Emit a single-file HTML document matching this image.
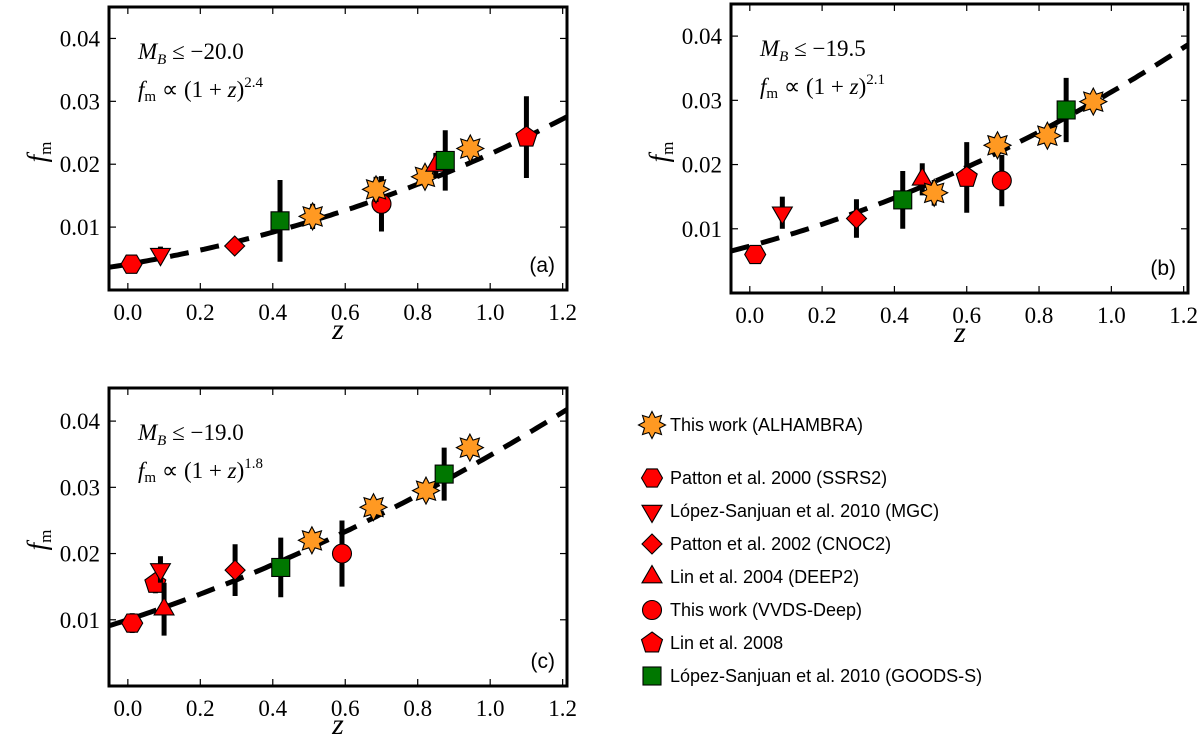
<!DOCTYPE html>
<html><head><meta charset="utf-8"><style>
html,body{margin:0;padding:0;background:#fff;}
svg{display:block;}
</style></head><body>
<svg id="fig" width="1200" height="738" viewBox="0 0 1200 738" xmlns="http://www.w3.org/2000/svg">
</svg>
<script>
// Panel (a) MB <= -20.0
const typesA = ['hex','tdown','diamond','square','star','circle','star','star','tup','square','star','pent'];
const zA = [0.01,0.09,0.295,0.42,0.51,0.70,0.685,0.82,0.85,0.876,0.945,1.10];
const fA = [0.0041,0.0057,0.0070,0.0110,0.0117,0.0137,0.0160,0.0180,0.0198,0.0206,0.0225,0.0243];
const eA = [0.0005,0.0012,0.0008,0.0065,0.0020,0.0044,0.0020,0.0015,0.0020,0.0048,0.0015,0.0065];
const fitA = {f0:0.0041, p:2.4};
// Panel (b) MB <= -19.5
const typesB = ['hex','tdown','diamond','square','tup','star','pent','star','circle','star','square','star'];
const zB = [0.015,0.09,0.295,0.423,0.477,0.51,0.60,0.685,0.697,0.823,0.875,0.95];
const fB = [0.0060,0.0125,0.0116,0.0145,0.0177,0.0156,0.0180,0.0230,0.0175,0.0245,0.0285,0.0298];
const eB = [0.0005,0.0025,0.0030,0.0045,0.0025,0.0020,0.0055,0.0015,0.0040,0.0015,0.0050,0.0015];
const fitB = {f0:0.0073, p:2.1};
// Panel (c) MB <= -19.0
const typesC = ['hex','pent','tdown','tup','diamond','square','star','circle','star','star','square','star'];
const zC = [0.012,0.076,0.09,0.10,0.296,0.422,0.508,0.591,0.678,0.823,0.873,0.944];
const fC = [0.0095,0.0155,0.0176,0.0116,0.0175,0.0179,0.0220,0.0200,0.0270,0.0295,0.0320,0.0360];
const eC = [0.0015,0.0015,0.0020,0.0040,0.0039,0.0045,0.0015,0.0050,0.0015,0.0015,0.0040,0.0015];
const fitC = {f0:0.0100, p:1.8};

const xTicks = [0.0,0.2,0.4,0.6,0.8,1.0,1.2];
const yTicks = [0.01,0.02,0.03,0.04];
const xTickLabels = ['0.0','0.2','0.4','0.6','0.8','1.0','1.2'];
const yTickLabels = ['0.01','0.02','0.03','0.04'];

const legendLabels = ['This work (ALHAMBRA)','Patton et al. 2000 (SSRS2)','López-Sanjuan et al. 2010 (MGC)','Patton et al. 2002 (CNOC2)','Lin et al. 2004 (DEEP2)','This work (VVDS-Deep)','Lin et al. 2008','López-Sanjuan et al. 2010 (GOODS-S)'];
const legendTypes = ['star','hex','tdown','diamond','tup','circle','pent','square'];

const NS='http://www.w3.org/2000/svg';
const svg=document.getElementById('fig');
function mk(tag,attrs,parent){const e=document.createElementNS(NS,tag);for(const k in attrs)e.setAttribute(k,attrs[k]);(parent||svg).appendChild(e);return e;}

function colorOf(t){return t==='star'?'#ff9922':(t==='square'?'#007700':'#ff0000');}
function polyPts(cx,cy,n,r,rot,inner){
  const pts=[];const m=inner?2*n:n;
  for(let i=0;i<m;i++){const a=rot+i*2*Math.PI/m;const rr=(inner&&i%2)?r*inner:r;pts.push((cx+rr*Math.sin(a)).toFixed(1)+','+(cy-rr*Math.cos(a)).toFixed(1));}
  return pts.join(' ');
}
function marker(t,cx,cy,g){
  const st={fill:colorOf(t),stroke:'#000','stroke-width':1.1};
  let e;
  if(t==='circle'){e=mk('circle',Object.assign({cx:cx,cy:cy,r:9.5},st),g);}
  else if(t==='square'){e=mk('rect',Object.assign({x:cx-9,y:cy-9,width:18,height:18},st),g);}
  else if(t==='hex'){e=mk('polygon',Object.assign({points:polyPts(cx,cy,6,10.5,Math.PI/6)},st),g);}
  else if(t==='pent'){e=mk('polygon',Object.assign({points:polyPts(cx,cy,5,11,0)},st),g);}
  else if(t==='diamond'){e=mk('polygon',Object.assign({points:polyPts(cx,cy,4,10,0)},st),g);}
  else if(t==='tup'){e=mk('polygon',Object.assign({points:polyPts(cx,cy,3,11.5,0)},st),g);}
  else if(t==='tdown'){e=mk('polygon',Object.assign({points:polyPts(cx,cy,3,11.5,Math.PI)},st),g);}
  else {e=mk('polygon',Object.assign({points:polyPts(cx,cy,8,13.5,0,0.6)},st),g);}
  return e;
}

function panel(id,box,types,zs,fs,es,fit,l1,exp,tag,ylabPos,xlabPos){
  const g=mk('g',{});
  
  
  const xmin=-0.052,xmax=1.212,ymin=0,ymax=0.045;
  const X=v=>box.x+(v-xmin)/(xmax-xmin)*box.w;
  const Y=v=>box.y+box.h-(v-ymin)/(ymax-ymin)*box.h;
  const clip=mk('clipPath',{id:'clip'+id},g);
  mk('rect',{x:box.x,y:box.y,width:box.w,height:box.h},clip);
  let d='';
  for(let i=0;i<=120;i++){const z=xmin+(xmax-xmin)*i/120;d+=(i?'L':'M')+X(z).toFixed(1)+','+Y(fit.f0*Math.pow(1+z,fit.p)).toFixed(1);}
  const fl=mk('path',{d:d,fill:'none',stroke:'#000','stroke-width':5,'stroke-dasharray':'19,12','clip-path':'url(#clip'+id+')'},g);
  
  
  for(let i=0;i<zs.length;i++){
    const eb=mk('line',{x1:X(zs[i]),x2:X(zs[i]),y1:Y(fs[i]-es[i]),y2:Y(fs[i]+es[i]),stroke:'#000','stroke-width':5},g);
    
    
    const m=marker(types[i],X(zs[i]),Y(fs[i]),g);
    
    
  }
  const fr=mk('rect',{x:box.x,y:box.y,width:box.w,height:box.h,fill:'none',stroke:'#000','stroke-width':3},g);
  
  
  xTicks.forEach((v,i)=>{
    const x=X(v);
    mk('line',{x1:x,x2:x,y1:box.y+box.h,y2:box.y+box.h-7,stroke:'#000','stroke-width':1.2},g);
    mk('line',{x1:x,x2:x,y1:box.y,y2:box.y+7,stroke:'#000','stroke-width':1.2},g);
    const t=mk('text',{x:x,y:box.y+box.h+30,'text-anchor':'middle','font-family':'Liberation Serif, serif','font-size':23},g);
    t.textContent=xTickLabels[i];
    
    
  });
  yTicks.forEach((v,i)=>{
    const y=Y(v);
    mk('line',{x1:box.x,x2:box.x+7,y1:y,y2:y,stroke:'#000','stroke-width':1.2},g);
    mk('line',{x1:box.x+box.w,x2:box.x+box.w-7,y1:y,y2:y,stroke:'#000','stroke-width':1.2},g);
    const t=mk('text',{x:box.x-9,y:y+8,'text-anchor':'end','font-family':'Liberation Serif, serif','font-size':23},g);
    t.textContent=yTickLabels[i];
    
    
  });
  const a1=mk('text',{x:box.x+29,y:box.y+52,'font-family':'Liberation Serif, serif','font-size':23},g);
  a1.innerHTML='<tspan font-style="italic">M</tspan><tspan font-style="italic" font-size="15" dy="5">B</tspan><tspan dy="-5"> ≤ −'+l1+'</tspan>';
  
  
  const a2=mk('text',{x:box.x+29,y:box.y+90,'font-family':'Liberation Serif, serif','font-size':23},g);
  a2.innerHTML='<tspan font-style="italic">f</tspan><tspan font-size="15" dy="4">m</tspan><tspan dy="-4"> ∝ (1 + </tspan><tspan font-style="italic">z</tspan><tspan>)</tspan><tspan font-size="15" dy="-10">'+exp+'</tspan>';
  
  
  const tg=mk('text',{x:box.x+box.w-12,y:box.y+box.h-18,'text-anchor':'end','font-family':'Liberation Sans, sans-serif','font-size':21},g);
  tg.textContent='('+tag+')';
  
  
  const yl=mk('text',{x:0,y:0,transform:'translate('+ylabPos[0]+','+ylabPos[1]+') rotate(-90)','text-anchor':'middle','font-family':'Liberation Serif, serif','font-size':27},g);
  yl.innerHTML='<tspan font-style="italic">f</tspan><tspan font-size="17" dy="5">m</tspan>';
  
  
  const xl=mk('text',{x:xlabPos[0],y:Math.min(box.y+box.h+49,734),'text-anchor':'middle','font-family':'Liberation Serif, serif','font-style':'italic','font-size':30},g);
  xl.textContent='z';
  
  
}

panel('a',{x:109,y:7,w:458,h:283},typesA,zA,fA,eA,fitA,'20.0','2.4','a',[46,152],[338]);
panel('b',{x:731,y:4,w:457,h:289},typesB,zB,fB,eB,fitB,'19.5','2.1','b',[668,152],[960]);
panel('c',{x:109,y:388,w:458,h:298},typesC,zC,fC,eC,fitC,'19.0','1.8','c',[46,540],[338]);

const lg=mk('g',{});


legendLabels.forEach((lab,i)=>{
  const y=i===0?425:478+(i-1)*33;
  const m=marker(legendTypes[i],652,y,lg);
  
  
  const t=mk('text',{x:670,y:y+6,'font-family':'Liberation Sans, sans-serif','font-size':18},lg);
  t.textContent=lab;
  
  
});
</script>
</body></html>
